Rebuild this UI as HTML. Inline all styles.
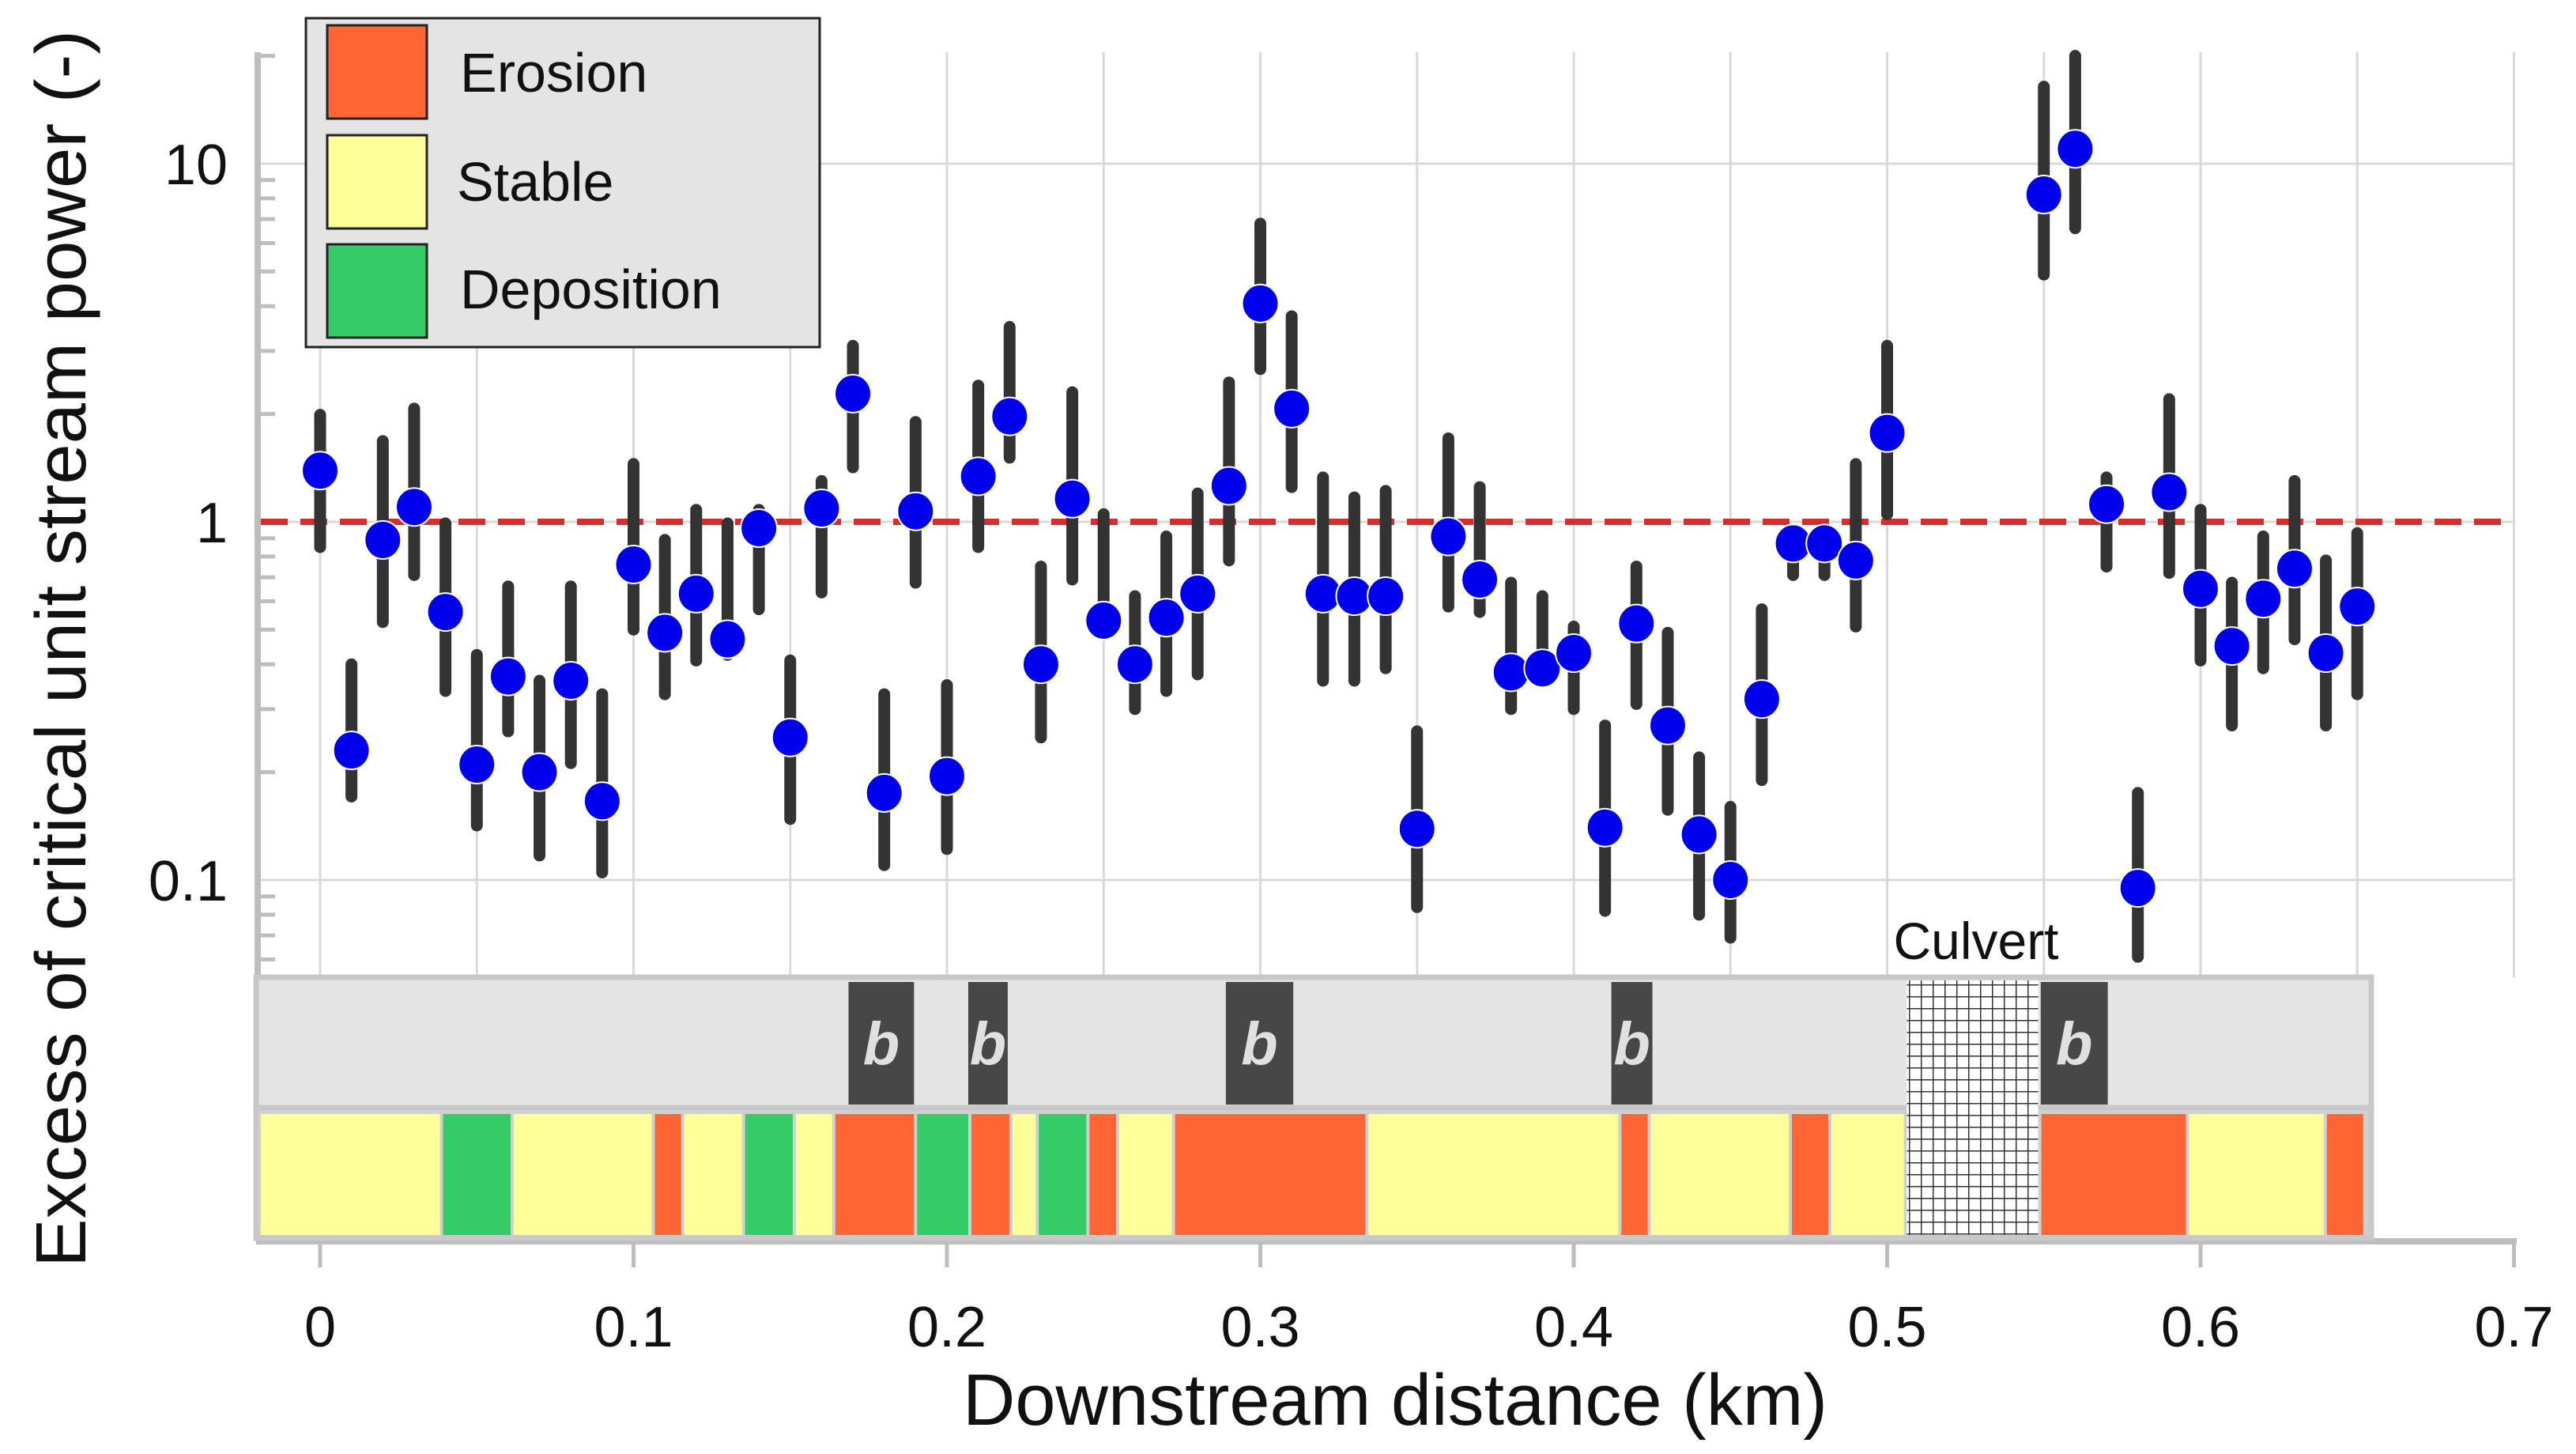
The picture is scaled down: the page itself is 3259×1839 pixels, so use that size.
<!DOCTYPE html>
<html><head><meta charset="utf-8"><style>
html,body{margin:0;padding:0;background:#fff;}
svg{display:block;font-family:"Liberation Sans",Arial,sans-serif;}
</style></head><body>
<svg id="chart" width="3259" height="1839" viewBox="0 0 3259 1839" xmlns="http://www.w3.org/2000/svg">
<defs>
<pattern id="hatch" width="15" height="15" patternUnits="userSpaceOnUse">
<rect width="15" height="15" fill="#fff"/>
<path d="M0 0H15M0 0V15" stroke="#333" stroke-width="3"/>
</pattern>
</defs>
<g id="grid"></g>
<g id="axes"></g>
<g id="bands"></g>
<g id="marks"></g>
<g>
<rect x="387" y="23" width="650" height="416" fill="#e4e4e4" stroke="#222" stroke-width="3"/>
<rect x="414" y="32" width="126" height="118" fill="#ff6633" stroke="#222" stroke-width="3"/>
<rect x="414" y="171" width="126" height="118" fill="#ffff99" stroke="#222" stroke-width="3"/>
<rect x="414" y="309" width="126" height="118" fill="#33cc66" stroke="#222" stroke-width="3"/>
<text x="582" y="116" font-size="70" fill="#111">Erosion</text>
<text x="578" y="254" font-size="70" fill="#111">Stable</text>
<text x="582" y="390" font-size="70" fill="#111">Deposition</text>
</g>
<text x="1765" y="1802" font-size="92" text-anchor="middle" fill="#111">Downstream distance (km)</text>
<text transform="translate(108,1603) rotate(-90)" font-size="90" textLength="1565" lengthAdjust="spacingAndGlyphs" fill="#111">Excess of critical unit stream power (-)</text>
<text x="2500" y="1213" font-size="66" text-anchor="middle" fill="#111">Culvert</text>
</svg>
<script>
const distances = [0,0.01,0.02,0.03,0.04,0.05,0.06,0.07,0.08,0.09,0.10,0.11,0.12,0.13,0.14,0.15,0.16,0.17,0.18,0.19,0.20,0.21,0.22,0.23,0.24,0.25,0.26,0.27,0.28,0.29,0.30,0.31,0.32,0.33,0.34,0.35,0.36,0.37,0.38,0.39,0.40,0.41,0.42,0.43,0.44,0.45,0.46,0.47,0.48,0.49,0.50,0.55,0.56,0.57,0.58,0.59,0.60,0.61,0.62,0.63,0.64,0.65];
const values = [1.39,0.23,0.89,1.1,0.56,0.21,0.37,0.20,0.36,0.166,0.76,0.49,0.63,0.47,0.96,0.25,1.09,2.28,0.175,1.07,0.195,1.34,1.97,0.40,1.16,0.53,0.40,0.54,0.63,1.26,4.07,2.07,0.63,0.62,0.62,0.139,0.91,0.69,0.38,0.39,0.43,0.14,0.52,0.27,0.134,0.10,0.32,0.87,0.87,0.78,1.77,8.2,11,1.12,0.095,1.21,0.65,0.45,0.61,0.74,0.43,0.58];
const highs = [1.99,0.40,1.68,2.07,0.99,0.425,0.66,0.36,0.66,0.33,1.45,0.89,1.08,0.99,1.08,0.41,1.30,3.1,0.33,1.9,0.35,2.4,3.5,0.75,2.3,1.05,0.62,0.91,1.2,2.45,6.8,3.75,1.33,1.17,1.22,0.26,1.71,1.25,0.676,0.62,0.51,0.27,0.75,0.49,0.22,0.16,0.57,0.95,0.95,1.45,3.1,16.4,20,1.33,0.175,2.2,1.08,0.676,0.91,1.30,0.78,0.93];
const lows = [0.85,0.171,0.525,0.71,0.337,0.142,0.26,0.117,0.212,0.105,0.50,0.33,0.41,0.425,0.57,0.148,0.635,1.42,0.11,0.676,0.122,0.85,1.51,0.25,0.69,0.49,0.30,0.337,0.375,0.78,2.67,1.25,0.36,0.36,0.39,0.084,0.58,0.56,0.30,0.37,0.30,0.082,0.31,0.157,0.080,0.069,0.19,0.71,0.71,0.51,1.05,4.9,6.6,0.75,0.061,0.72,0.41,0.27,0.39,0.47,0.27,0.33];
const xTicks = [0,0.1,0.2,0.3,0.4,0.5,0.6,0.7];
const xTickLabels = ["0","0.1","0.2","0.3","0.4","0.5","0.6","0.7"];
const yTicks = [10,1,0.1];
const yTickLabels = ["10","1","0.1"];
const segStarts = [-0.021,0.0387,0.0613,0.1063,0.1157,0.1351,0.1513,0.1639,0.190,0.2073,0.2204,0.2288,0.245,0.2545,0.2723,0.334,0.4147,0.4241,0.4691,0.4817,0.5058,0.5487,0.5958,0.6398];
const segEnds = [0.0387,0.0613,0.1063,0.1157,0.1351,0.1513,0.1639,0.190,0.2073,0.2204,0.2288,0.245,0.2545,0.2723,0.334,0.4147,0.4241,0.4691,0.4817,0.5058,0.5487,0.5958,0.6398,0.6524];
const segClasses = ["stable","deposition","stable","erosion","stable","deposition","stable","erosion","deposition","erosion","stable","deposition","erosion","stable","erosion","stable","erosion","stable","erosion","stable","culvert","erosion","stable","erosion"];
const bedrockStarts = [0.1686,0.2068,0.2890,0.4120,0.5490];
const bedrockEnds = [0.1895,0.2194,0.3105,0.4251,0.5704];

const NS = "http://www.w3.org/2000/svg";
function xs(k){ return 405 + 3965*k; }
function ys(v){ return 660 - 453*Math.log10(v); }
function mk(parent, tag, attrs){
  const e = document.createElementNS(NS, tag);
  for (const k in attrs) e.setAttribute(k, attrs[k]);
  document.getElementById(parent).appendChild(e);
  return e;
}
const PLOT_TOP = 66, BAND_TOP = 1236, BAND_MID = 1401, BAND_BOT = 1566, BAND_LEFT = 324, BAND_RIGHT = 3000, AXIS_RIGHT = 3180;
for (let i = 0; i <= 14; i++) {
  const g = mk("grid","line",{x1:xs(i*0.05),x2:xs(i*0.05),y1:PLOT_TOP,y2:BAND_TOP,stroke:"#d9d9d9","stroke-width":3});
  
  
}
yTicks.forEach((v,i)=>{
  const g = mk("grid","line",{x1:330,x2:AXIS_RIGHT,y1:ys(v),y2:ys(v),stroke:"#d9d9d9","stroke-width":3});
  
  
  const t = mk("axes","text",{x:288,y:ys(v)+26,"font-size":72,"text-anchor":"end",fill:"#111"});
  t.textContent = yTickLabels[i];
  
  
});
const ya = mk("axes","line",{x1:326,x2:326,y1:PLOT_TOP,y2:BAND_TOP,stroke:"#bdbdbd","stroke-width":8});


[0.06,0.07,0.08,0.09,0.2,0.3,0.4,0.5,0.6,0.7,0.8,0.9,2,3,4,5,6,7,8,9,20].forEach(v=>{
  const y = ys(v);
  if (y < PLOT_TOP || y > BAND_TOP) return;
  const t = mk("axes","line",{x1:326,x2:348,y1:y,y2:y,stroke:"#bdbdbd","stroke-width":5});
  
  
});
const xa = mk("axes","line",{x1:BAND_LEFT,x2:AXIS_RIGHT+4,y1:BAND_BOT+4,y2:BAND_BOT+4,stroke:"#bdbdbd","stroke-width":8});


xTicks.forEach((k,i)=>{
  const t = mk("axes","line",{x1:xs(k),x2:xs(k),y1:BAND_BOT+4,y2:1603,stroke:"#bdbdbd","stroke-width":5});
  
  
  const l = mk("axes","text",{x:xs(k),y:1703,"font-size":72,"text-anchor":"middle",fill:"#111"});
  l.textContent = xTickLabels[i];
  
  
});
const gb = mk("bands","rect",{x:BAND_LEFT,y:BAND_TOP,width:BAND_RIGHT-BAND_LEFT,height:BAND_MID-BAND_TOP,fill:"#e4e4e4",stroke:"#c8c8c8","stroke-width":7});


const cb = mk("bands","rect",{x:BAND_LEFT,y:BAND_MID,width:BAND_RIGHT-BAND_LEFT,height:BAND_BOT-BAND_MID,fill:"#d0d0d0",stroke:"#c8c8c8","stroke-width":7});


const colorMap = {stable:"#ffff99",erosion:"#ff6633",deposition:"#33cc66",culvert:"url(#hatch)"};
segStarts.forEach((s,i)=>{
  const c = segClasses[i];
  const top = c==="culvert" ? BAND_TOP+4 : BAND_MID+8;
  const x0 = Math.max(xs(s), BAND_LEFT+4), x1 = Math.min(xs(segEnds[i]), BAND_RIGHT-4);
  const r = mk("bands","rect",{x:x0+2,y:top,width:x1-x0-4,height:BAND_BOT-4-top,fill:colorMap[c]});
  
  
});
bedrockStarts.forEach((s,i)=>{
  const r = mk("bands","rect",{x:xs(s),y:BAND_TOP+6,width:xs(bedrockEnds[i])-xs(s),height:BAND_MID-BAND_TOP-10,fill:"#474747"});
  
  
  const t = mk("bands","text",{x:(xs(s)+xs(bedrockEnds[i]))/2,y:1346,"font-size":76,"font-weight":"bold","font-style":"italic","text-anchor":"middle",fill:"#e0e0e0"});
  t.textContent = "b";
  
  
});
const th = mk("marks","line",{x1:330,x2:AXIS_RIGHT,y1:ys(1),y2:ys(1),stroke:"#d62c2c","stroke-width":8,"stroke-dasharray":"34 16"});


distances.forEach((d,i)=>{
  const b = mk("marks","line",{x1:xs(d),x2:xs(d),y1:ys(highs[i]),y2:ys(lows[i]),stroke:"#333","stroke-width":15,"stroke-linecap":"round"});
  
  
});
distances.forEach((d,i)=>{
  const c = mk("marks","ellipse",{cx:xs(d),cy:ys(values[i]),rx:23,ry:24,fill:"#0000ee",stroke:"#fff","stroke-width":2});
  
  
});
</script>
</body></html>
